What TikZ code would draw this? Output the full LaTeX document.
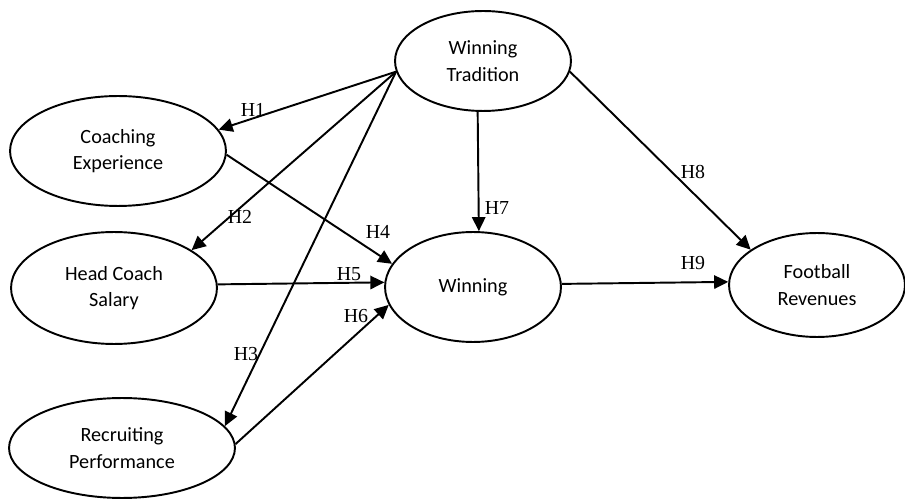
\documentclass[tikz,border=0pt]{standalone}
\usepackage{fontspec}
\setmainfont{Liberation Serif}
\newfontfamily\bodyFont{Carlito}
\usetikzlibrary{shapes.geometric,arrows.meta}
\newcommand{\construct}[5]{%%
  %% An ellipse with a name, a centre, two radii and a text.
  \node[ellipseStyle,minimum width=#3*0.04cm,minimum height=#4*0.04cm] (#1) at #2 {#5};
}
\newcommand{\hypothesis}[4]{%%
  %% The arrow of a hypothesis and its label.
  \draw[arrowStyle] #1 -- #2;
  \node[labelStyle] (#3) at #4 {#3};
}
\begin{document}
\begin{tikzpicture}[%%
  x=0.02cm,y=-0.02cm,%%
  ellipseStyle/.style={draw,ellipse,line width=1.1pt,inner sep=0pt,align=center,font=\bodyFont\fontsize{11.5}{15}\selectfont},%%
  arrowStyle/.style={-{Triangle[length=8pt,width=7.6pt]},line width=1.1pt},%%
  labelStyle/.style={font=\fontsize{11.3}{13}\selectfont,inner sep=0pt}%%
]
\useasboundingbox (0,0) rectangle (905,499);
%%
%% The constructs of the model.
\construct{tradition}{(483,61)}{88}{50}{Winning\\Tradition}
\construct{experience}{(118,151)}{108}{55}{Coaching\\Experience}
\construct{salary}{(114,288)}{103}{56}{Head Coach\\Salary}
\construct{recruiting}{(122,448)}{113}{50}{Recruiting\\Performance}
\construct{winning}{(473,287)}{88}{55}{Winning}
\construct{revenues}{(817,285)}{88}{52}{Football\\Revenues}
%%
%% The hypotheses.
\hypothesis{(tradition.187)}{(experience.12)}{H1}{(253,110)}
\hypothesis{(tradition.187)}{(salary.26)}{H2}{(240,217)}
\hypothesis{(tradition.187)}{(recruiting.12.5)}{H3}{(246,354)}
\hypothesis{(experience.-2)}{(winning.164.7)}{H4}{(378,232)}
\hypothesis{(salary.2.8)}{(winning.177.6)}{H5}{(349,274)}
\hypothesis{(recruiting.2)}{(winning.192.5)}{H6}{(356,316)}
\hypothesis{(tradition.264)}{(winning.84)}{H7}{(497,208)}
\hypothesis{(tradition.-7)}{(revenues.152.4)}{H8}{(693,172)}
\hypothesis{(winning.2.2)}{(revenues.178.2)}{H9}{(693,263)}
\end{tikzpicture}
\end{document}
